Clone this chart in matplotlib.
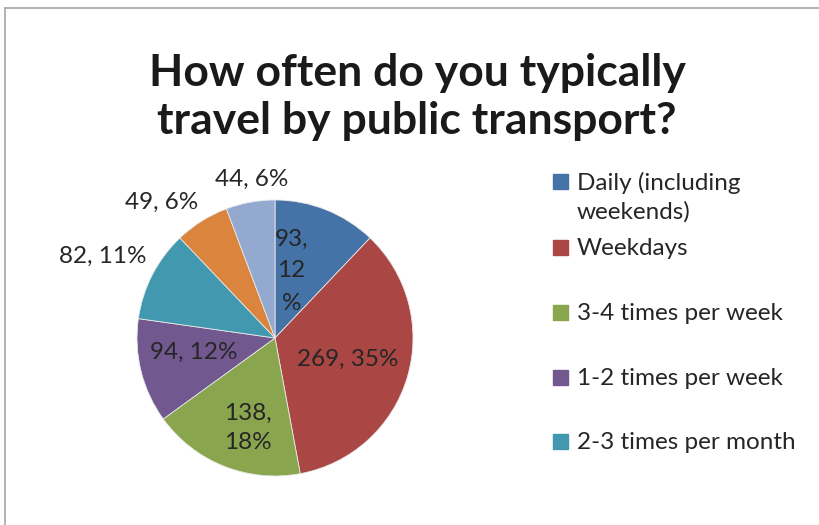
import matplotlib
matplotlib.use("Agg")
import matplotlib.pyplot as plt
import numpy as np
from matplotlib.lines import Line2D
from matplotlib.patches import Rectangle

plt.rcParams["font.family"] = ["Lato", "DejaVu Sans"]

# data
categories = [
    "Daily (including\nweekends)",
    "Weekdays",
    "3-4 times per week",
    "1-2 times per week",
    "2-3 times per month",
    "Once a month",
    "Less often",
]
counts = [93, 269, 138, 94, 82, 49, 44]
label_texts = ["93,\n12\n%", "269, 35%", "138,\n18%", "94, 12%", "82, 11%", "49, 6%", "44, 6%"]

COLORS = ["#4572A7", "#AA4643", "#89A54E", "#71588F", "#4198AF", "#DB843D", "#93A9CF"]
# label placement: radius factor, angle tweak (degrees), line spacing
LABEL_R = [0.50, 0.55, 0.68, 0.60, 1.38, 1.28, 1.16]
LABEL_DA = [8, 0, 5, -3.6, 2, 8, -2]
LABEL_LS = [1.65, 1.2, 1.5, 1.2, 1.2, 1.2, 1.2]

fig = plt.figure(figsize=(8.19, 5.25), dpi=100)
W, H = 819, 525

# pie axes: center (275, 338), radius 138 px
R = 138
cx, cy = 275, 338
ax = fig.add_axes([(cx - R) / W, (H - cy - R) / H, 2 * R / W, 2 * R / H])
wedges, _ = ax.pie(
    counts,
    colors=COLORS,
    startangle=90,
    counterclock=False,
    radius=1.0,
    wedgeprops=dict(edgecolor="#E8E8E8", linewidth=0.6),
)
ax.set_xlim(-1, 1)
ax.set_ylim(-1, 1)
ax.set_aspect("equal")
ax.axis("off")

for w, txt, rf, da, ls in zip(wedges, label_texts, LABEL_R, LABEL_DA, LABEL_LS):
    ang = np.deg2rad((w.theta1 + w.theta2) / 2 + da)
    ax.text(rf * np.cos(ang), rf * np.sin(ang), txt, ha="center", va="center",
            fontsize=17.5, color="#262626", linespacing=ls, clip_on=False)

# title
fig.text(417 / W, 1 - 97 / H, "How often do you typically\ntravel by public transport?",
         ha="center", va="center", fontsize=32, fontweight="bold", color="#1a1a1a",
         linespacing=1.22)

# legend (only first five entries fit)
legend_y = [181, 247, 312, 377, 441]
for i, y in enumerate(legend_y):
    fig.add_artist(Rectangle((553 / W, 1 - (y + 7.5) / H), 15 / W, 15 / H,
                             transform=fig.transFigure, color=COLORS[i]))
    fig.text(577 / W, 1 - (y - 9) / H, categories[i], ha="left", va="top",
             fontsize=17.5, color="#262626", linespacing=1.38)

# chart border (left and top)
fig.add_artist(Line2D([5 / W, 5 / W], [0, 1 - 8 / H], transform=fig.transFigure,
                      color="#A6A6A6", lw=1.2))
fig.add_artist(Line2D([5 / W, 1], [1 - 8 / H, 1 - 8 / H], transform=fig.transFigure,
                      color="#A6A6A6", lw=1.2))

fig.savefig("out.png", dpi=100)
